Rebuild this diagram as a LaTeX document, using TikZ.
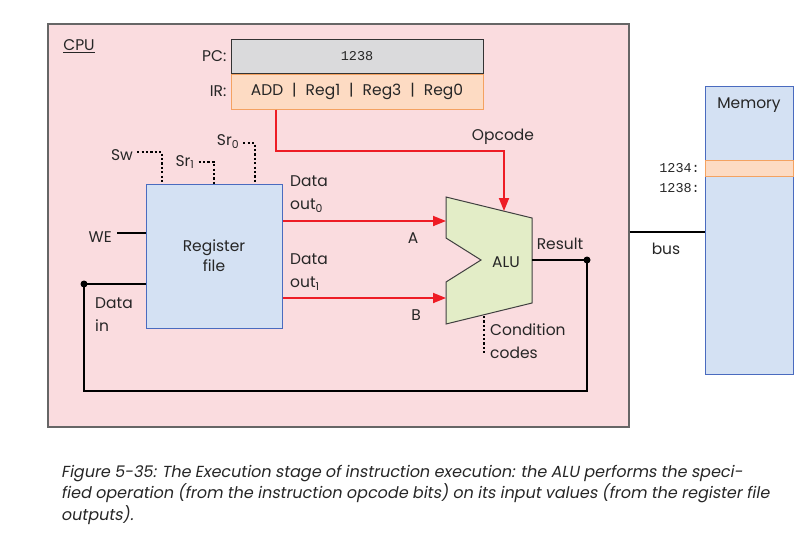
\documentclass[tikz,border=0pt]{standalone}
\usepackage{fontspec}
\setmainfont{Poppins}
\setmonofont{Liberation Mono}
\newfontfamily\capfont{Poppins}[FakeSlant=0.18]
\usetikzlibrary{positioning,arrows.meta}

\definecolor{cpupink}{HTML}{FADCDF}
\definecolor{regblue}{HTML}{D4E1F3}
\definecolor{regedge}{HTML}{4A6BBF}
\definecolor{pcgray}{HTML}{DADADC}
\definecolor{irpeach}{HTML}{FDDBC3}
\definecolor{iredge}{HTML}{F4A261}
\definecolor{alugreen}{HTML}{E3EDC7}
\definecolor{wirered}{HTML}{EE1C25}

\begin{document}
\begin{tikzpicture}[x=1pt,y=-1pt]
        \tikzstyle{every node}+=[inner sep=1pt, font=\fontsize{15.5}{23}\selectfont, text=black!85]
        \tikzstyle{regbox}=[draw=regedge, fill=regblue, line width=1pt, inner sep=0pt]
        \tikzstyle{mono}=[font=\ttfamily\fontsize{13.5}{15}\selectfont]
        \tikzstyle{wire}=[black, line width=1.8pt]
        \tikzstyle{redwire}=[wirered, line width=1.8pt]
        \tikzstyle{redarrow}=[redwire, -{Triangle[length=13pt,width=10pt]}]
        \tikzstyle{ctrl}=[black, line width=1.6pt, dash pattern=on 2.2pt off 2.2pt]
        \tikzstyle{junction}=[circle, fill=black, inner sep=0pt, minimum size=7pt]
        \useasboundingbox (0,0) rectangle (806,550);
        % cpu and memory
        \node [draw=black!60, fill=cpupink, line width=1.2pt, minimum width=581pt, minimum height=403pt] (cpu) at (338.5,225.5) {};
        \node (cpulbl) at (79,46) {\underline{CPU}};
        \node [regbox, minimum width=88pt, minimum height=288pt] (mem) at (749,230) {};
        \node (memlbl) at (749,105) {Memory};
        \node [draw=iredge, fill=irpeach, line width=1pt, minimum width=88pt, minimum height=16pt] (row) at (749,168) {};
        \node [anchor=east, mono] (a1234) at (701,168) {1234:};
        \node [anchor=east, mono] (a1238) at (701,188) {1238:};
        \draw [wire] (cpu.east |- 0,232) coordinate (busend) -- (busend -| mem.west);
        \node (buslbl) at (666,249) {bus};
        % pc and ir
        \node [draw=black!80, fill=pcgray, line width=1pt, minimum width=252pt, minimum height=34pt, mono] (pc) at (357,56) {1238};
        \node [draw=iredge, fill=irpeach, line width=1pt, minimum width=252pt, minimum height=35pt, anchor=north] (ir) at (pc.south) {ADD\hspace{9pt}|\hspace{9pt}Reg1\hspace{9pt}|\hspace{9pt}Reg3\hspace{9pt}|\hspace{9pt}Reg0};
        \node [anchor=east] (pclbl) at ([xshift=-3pt]pc.west) {PC:};
        \node [anchor=east] (irlbl) at ([xshift=-3pt]ir.west) {IR:};
        % register file
        \node [regbox, minimum width=136pt, minimum height=144pt, align=center] (rf) at (214,256) {Register\\[-3pt]file};
        \node (sw) at (122,155) {Sw};
        \node (sr1) at (185,162) {Sr\textsubscript{1}};
        \node (sr0) at (228,142) {Sr\textsubscript{0}};
        \draw [ctrl] ([xshift=3pt]sw.east |- 0,152) -| ([xshift=-52pt]rf.north);
        \draw [ctrl] ([xshift=3pt]sr1.east |- 0,162) -| (rf.north);
        \draw [ctrl] ([xshift=3pt]sr0.east |- 0,143) -| ([xshift=41pt]rf.north);
        \node [anchor=east] (we) at (113,237) {WE};
        \draw [wire] ([xshift=4pt]we.east |- 0,233) -- (rf.west |- 0,233);
        \node [align=left, anchor=west] (dinlbl) at (94,315) {Data\\in};
        \node [align=left, anchor=west] (dout0) at (289,194) {Data\\out\textsubscript{0}};
        \node [align=left, anchor=west] (dout1) at (289,272) {Data\\out\textsubscript{1}};
        % alu
        \coordinate (alu-tl) at (446,197);
        \coordinate (alu-tr) at (532,218);
        \coordinate (alu-br) at (532,303);
        \coordinate (alu-bl) at (446,324);
        \coordinate (alu-a) at (446,221);
        \coordinate (alu-b) at (446,298);
        \coordinate (alu-op) at (504,211);
        \coordinate (alu-out) at (532,260);
        \draw [fill=alugreen, draw=black!75, line width=1pt] (alu-tl) -- (alu-tr) -- (alu-br) -- (alu-bl) -- (446,282) -- (481,260) -- (446,238) -- cycle;
        \node (alulbl) at (506,262) {ALU};
        \draw [redarrow] (rf.east |- alu-a) -- (alu-a);
        \draw [redarrow] (rf.east |- alu-b) -- (alu-b);
        \node (albl) at (413,238) {A};
        \node (blbl) at (416,315) {B};
        \coordinate (opc) at (276,151);
        \draw [redarrow] (ir.south -| opc) -- (opc) -- (opc -| alu-op) -- (alu-op);
        \node (opclbl) at (503,137) {Opcode};
        \draw [ctrl] (484,316) -- (484,354);
        \node [align=left, anchor=west] (cclbl) at (489,341) {Condition\\codes};
        % result back to data in
        \node [junction] (res) at (587,260) {};
        \node [junction] (din) at (84,284) {};
        \node (reslbl) at (560,244) {Result};
        \draw [wire] (alu-out) -- (res.center) -- (res.center |- 0,391) -- (din.center |- 0,391) -- (din.center) -- (rf.west |- din);
        % caption
        \node [anchor=north west, align=left, font=\capfont\fontsize{16}{21.5}\selectfont] (caption) at (60,464) {Figure 5-35: The Execution stage of instruction execution: the ALU performs the speci-\\fied operation (from the instruction opcode bits) on its input values (from the register file\\outputs).};
    \end{tikzpicture}
\end{document}
